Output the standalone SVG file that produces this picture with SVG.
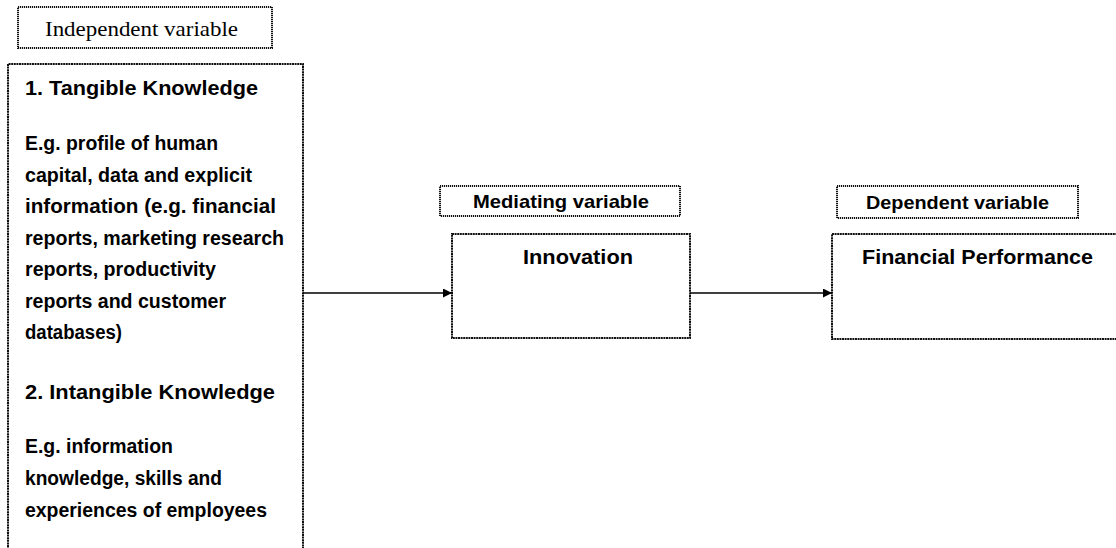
<svg xmlns="http://www.w3.org/2000/svg" width="1116" height="548" viewBox="0 0 1116 548">
<style>
.lbl{fill:#fff;stroke:#111;stroke-width:2;stroke-dasharray:1.2 0.8}
.box{fill:#fff;stroke:#111;stroke-width:2;stroke-dasharray:2 0.6}
.b{font-family:"Liberation Sans",Arial,sans-serif;font-weight:bold;font-size:19.5px;fill:#000}
.m{font-size:18.5px}
.s{font-family:"Liberation Serif","Times New Roman",serif;font-size:21px;fill:#000}
.con{stroke:#000;stroke-width:1.6;fill:none}
</style>
<defs>
<marker id="ah" viewBox="0 0 10 10" refX="10" refY="5" markerWidth="9" markerHeight="9" markerUnits="userSpaceOnUse" orient="auto">
<path d="M0,0 L10,5 L0,10 z" fill="#000"/>
</marker>
</defs>
<g id="independent-label">
<rect class="lbl" x="18" y="7" width="254" height="41"/>
<text class="s" x="45" y="36" textLength="193" lengthAdjust="spacingAndGlyphs">Independent variable</text>
</g>
<g id="knowledge">
<path class="box" d="M8,560 L8,64 L303,64 L303,560"/>
<text class="b" x="25" y="95" textLength="233" lengthAdjust="spacingAndGlyphs">1. Tangible Knowledge</text>
<text class="b" x="25" y="150" textLength="193" lengthAdjust="spacingAndGlyphs">E.g. profile of human</text>
<text class="b" x="25" y="181.5" textLength="227" lengthAdjust="spacingAndGlyphs">capital, data and explicit</text>
<text class="b" x="25" y="213" textLength="251" lengthAdjust="spacingAndGlyphs">information (e.g. financial</text>
<text class="b" x="25" y="244.5" textLength="259" lengthAdjust="spacingAndGlyphs">reports, marketing research</text>
<text class="b" x="25" y="276" textLength="191" lengthAdjust="spacingAndGlyphs">reports, productivity</text>
<text class="b" x="25" y="307.5" textLength="201" lengthAdjust="spacingAndGlyphs">reports and customer</text>
<text class="b" x="25" y="339" textLength="97" lengthAdjust="spacingAndGlyphs">databases)</text>
<text class="b" x="25" y="399" textLength="250" lengthAdjust="spacingAndGlyphs">2. Intangible Knowledge</text>
<text class="b" x="25" y="453" textLength="148" lengthAdjust="spacingAndGlyphs">E.g. information</text>
<text class="b" x="25" y="485" textLength="197" lengthAdjust="spacingAndGlyphs">knowledge, skills and</text>
<text class="b" x="25" y="517" textLength="242" lengthAdjust="spacingAndGlyphs">experiences of employees</text>
</g>
<g id="mediating-label">
<rect class="lbl" x="440" y="186" width="240" height="30"/>
<text class="b m" x="473" y="208" textLength="176" lengthAdjust="spacingAndGlyphs">Mediating variable</text>
</g>
<g id="innovation">
<rect class="box" x="452" y="234" width="238" height="104"/>
<text class="b" x="523" y="264" textLength="110" lengthAdjust="spacingAndGlyphs">Innovation</text>
</g>
<g id="dependent-label">
<rect class="lbl" x="837" y="186" width="241" height="32"/>
<text class="b m" x="866" y="209" textLength="183" lengthAdjust="spacingAndGlyphs">Dependent variable</text>
</g>
<g id="financial-performance">
<path class="box" d="M1120,234 L832,234 L832,339 L1120,339"/>
<text class="b" x="862" y="264" textLength="231" lengthAdjust="spacingAndGlyphs">Financial Performance</text>
</g>
<g id="connectors">
<line class="con" x1="303" y1="293" x2="452" y2="293" marker-end="url(#ah)"/>
<line class="con" x1="690" y1="293" x2="832" y2="293" marker-end="url(#ah)"/>
</g>
</svg>
